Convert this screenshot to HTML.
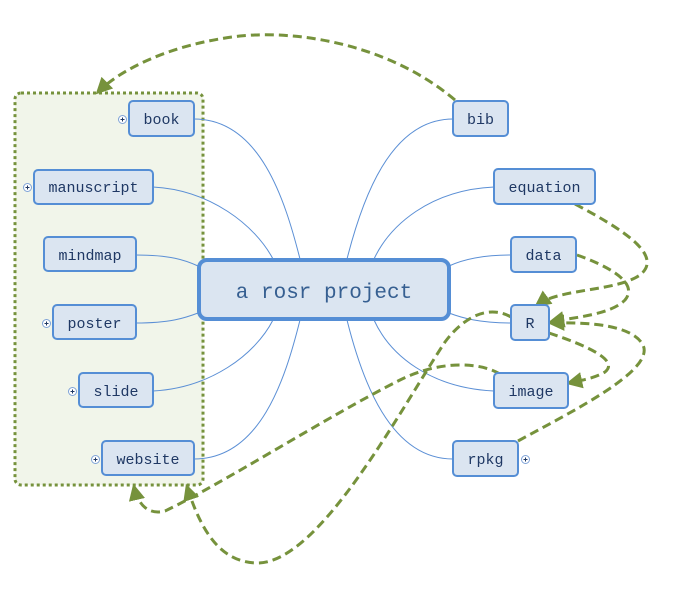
<!DOCTYPE html>
<html><head><meta charset="utf-8"><style>
html,body{margin:0;padding:0;background:#fff;width:694px;height:599px;overflow:hidden}
svg{display:block}
text{font-family:"Liberation Mono","DejaVu Sans Mono",monospace;fill:#1f3864}
</style></head><body>
<svg width="694" height="599" viewBox="0 0 694 599" xmlns="http://www.w3.org/2000/svg">
<defs>
<marker id="ah" viewBox="0 0 10 10" refX="8" refY="5" markerWidth="5.5" markerHeight="5.5" orient="auto" markerUnits="strokeWidth">
<path d="M0,0 L10,5 L0,10 z" fill="#76923c"/>
</marker>
</defs>
<rect x="15" y="93" width="188" height="392" rx="6" fill="#f1f5ea" stroke="#76923c" stroke-width="3" stroke-dasharray="3,3"/>
<g fill="none" stroke="#5b8fd5" stroke-width="1">
<path d="M194,119 C260,119 285,200 300,259"/>
<path d="M153,187 C210,190 255,225 273,259"/>
<path d="M136,255 C170,255 185,260 198,266"/>
<path d="M136,323 C170,323 185,318 198,313"/>
<path d="M153,391 C210,388 255,355 273,320"/>
<path d="M194,459 C260,459 285,380 300,320"/>
<path d="M453,119 C390,119 362,200 347,259"/>
<path d="M494,187 C430,190 390,225 374,259"/>
<path d="M511,255 C480,255 462,260 449,266"/>
<path d="M511,323 C480,323 462,318 449,313"/>
<path d="M494,391 C430,388 390,355 374,320"/>
<path d="M453,459 C390,459 362,380 347,320"/>
</g>
<g fill="none" stroke="#76923c" stroke-width="3" stroke-dasharray="9,5">
<path d="M455,100 C390,45 300,30 240,36 C170,44 120,70 98,92" marker-end="url(#ah)"/>
<path d="M575,204 C620,228 665,255 640,275 C615,292 560,288 537,305" marker-end="url(#ah)"/>
<path d="M577,255 C605,265 640,282 625,300 C610,315 575,317 551,322" marker-end="url(#ah)"/>
<path d="M549,333 C585,345 620,360 605,372 C595,378 583,380 569,383" marker-end="url(#ah)"/>
<path d="M518,441 C575,410 655,370 643,345 C632,325 590,322 551,323" marker-end="url(#ah)"/>
<path d="M511,317 C490,305 465,315 445,342 C400,410 320,562 258,563 C215,563 198,520 187,487" marker-end="url(#ah)"/>
<path d="M500,374 C480,362 440,360 400,380 C330,415 220,485 165,511 C145,516 137,500 134,487" marker-end="url(#ah)"/>
</g>
<g fill="#dbe5f1" stroke="#558ed5" stroke-width="2">
<rect x="129" y="101" width="65" height="35" rx="4"/>
<rect x="34" y="170" width="119" height="34" rx="4"/>
<rect x="44" y="237" width="92" height="34" rx="4"/>
<rect x="53" y="305" width="83" height="34" rx="4"/>
<rect x="79" y="373" width="74" height="34" rx="4"/>
<rect x="102" y="441" width="92" height="34" rx="4"/>
<rect x="453" y="101" width="55" height="35" rx="4"/>
<rect x="494" y="169" width="101" height="35" rx="4"/>
<rect x="511" y="237" width="65" height="35" rx="4"/>
<rect x="511" y="305" width="38" height="35" rx="4"/>
<rect x="494" y="373" width="74" height="35" rx="4"/>
<rect x="453" y="441" width="65" height="35" rx="4"/>
<rect x="199" y="260" width="250" height="59" rx="8" stroke-width="4"/>
</g>
<g fill="#fff" stroke="#7fa3d8" stroke-width="1">
<circle cx="122.5" cy="119.5" r="4"/><circle cx="27.5" cy="187.5" r="4"/>
<circle cx="46.5" cy="323.5" r="4"/><circle cx="72.5" cy="391.5" r="4"/>
<circle cx="95.5" cy="459.5" r="4"/><circle cx="525.5" cy="459.5" r="4"/>
</g>
<g stroke="#1f3864" stroke-width="1">
<path d="M120.5,119.5h4M122.5,117.5v4M25.5,187.5h4M27.5,185.5v4M44.5,323.5h4M46.5,321.5v4M70.5,391.5h4M72.5,389.5v4M93.5,459.5h4M95.5,457.5v4M523.5,459.5h4M525.5,457.5v4"/>
</g>
<g font-size="15" text-anchor="middle">
<text x="161.5" y="124">book</text>
<text x="93.5" y="192">manuscript</text>
<text x="90" y="260">mindmap</text>
<text x="94.5" y="328">poster</text>
<text x="116" y="396">slide</text>
<text x="148" y="464">website</text>
<text x="480.5" y="124">bib</text>
<text x="544.5" y="192">equation</text>
<text x="543.5" y="260">data</text>
<text x="530" y="328">R</text>
<text x="531" y="396">image</text>
<text x="485.5" y="464">rpkg</text>
</g>
<text x="324" y="298" font-size="21" text-anchor="middle" style="fill:#365f91">a rosr project</text>
</svg>
</body></html>
